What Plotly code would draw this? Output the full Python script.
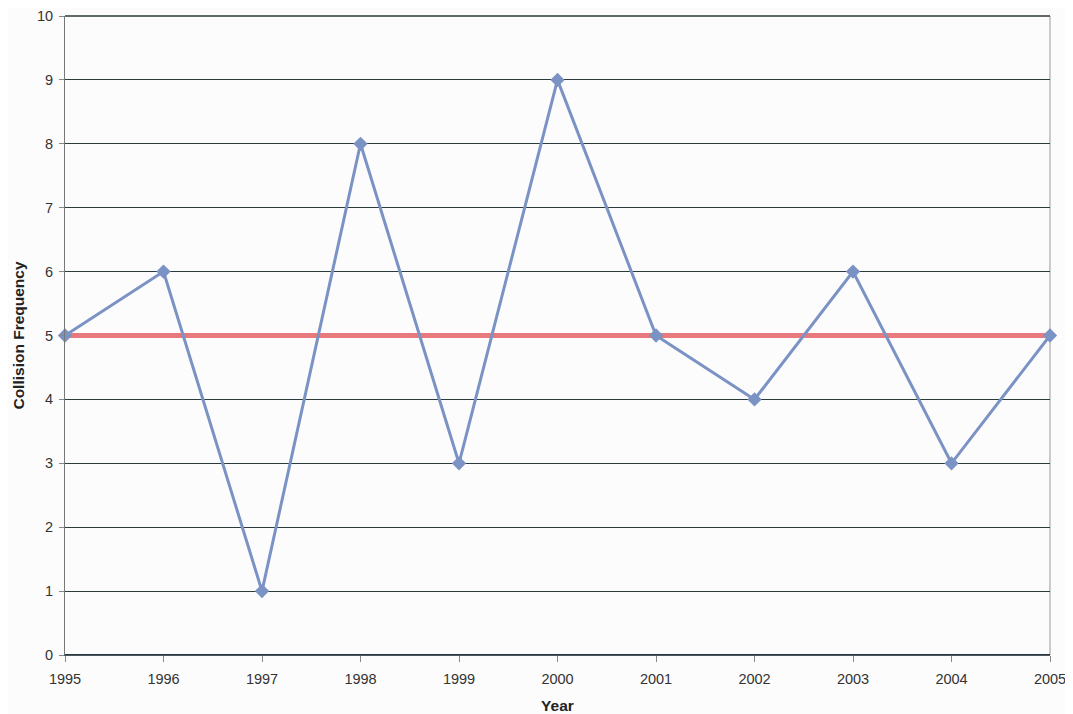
import plotly.graph_objects as go

years = [1995, 1996, 1997, 1998, 1999, 2000, 2001, 2002, 2003, 2004, 2005]
collisions = [5, 6, 1, 8, 3, 9, 5, 4, 6, 3, 5]
mean_value = [5] * len(years)

fig = go.Figure()
fig.add_trace(go.Scatter(x=years, y=mean_value, mode="lines",
                         line=dict(color="#e8797c", width=5), showlegend=False,
                         cliponaxis=False))
fig.add_trace(go.Scatter(x=years, y=collisions, mode="lines+markers",
                         line=dict(color="#7b93c4", width=3),
                         marker=dict(symbol="diamond", size=11, color="#7b93c4"),
                         showlegend=False, cliponaxis=False))

fig.update_layout(
    width=1065, height=706,
    margin=dict(l=57, r=23, t=8, b=59, autoexpand=False),
    paper_bgcolor="#fdfcfd", plot_bgcolor="#fdfcfd",
    font=dict(family="Liberation Sans, Arial", color="#333333", size=14.5),
)
fig.update_xaxes(range=[1995, 2005], tickmode="array", tickvals=years,
                 automargin=False,
                 showgrid=False, zeroline=False, showline=True, linecolor="#555555",
                 linewidth=1, ticks="outside", ticklen=6, tickcolor="#888888",
                 ticklabelstandoff=5,
                 title=dict(text="<b>Year</b>", font=dict(size=15.5, color="#222222"), standoff=13))
fig.update_yaxes(range=[0, 10], dtick=1, showgrid=True, gridcolor="#2b3a3a", gridwidth=1.4,
                 automargin=False,
                 zeroline=False, showline=True, linecolor="#777777", linewidth=1,
                 ticks="outside", ticklen=5, tickcolor="#888888",
                 ticklabelstandoff=3,
                 title=dict(text="<b>Collision Frequency</b>", font=dict(size=15.5, color="#222222"), standoff=8))
# right border and top/bottom lines
fig.add_shape(type="line", xref="paper", yref="paper", x0=1, x1=1, y0=0, y1=1,
              line=dict(color="#999999", width=1), layer="below")
fig.add_shape(type="line", xref="paper", yref="paper", x0=0, x1=1, y0=1, y1=1,
              line=dict(color="#2b3a3a", width=1.4), layer="below")
fig.add_shape(type="line", xref="paper", yref="paper", x0=0, x1=1, y0=0, y1=0,
              line=dict(color="#1f3a4a", width=2), layer="below")

fig.write_html("out.html")
